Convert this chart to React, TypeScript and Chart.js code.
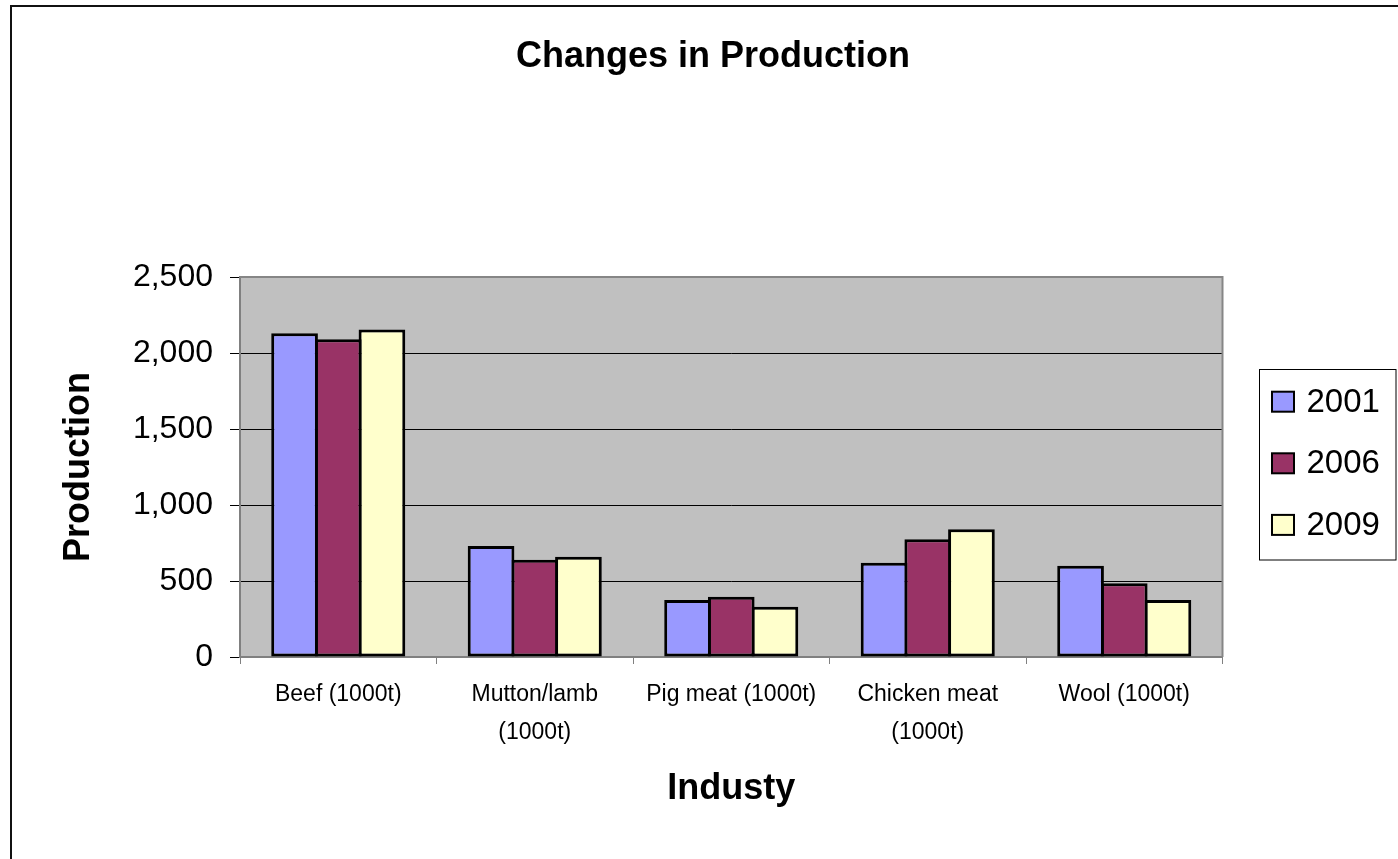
import React, { useEffect, useRef } from 'react';
import { Chart, registerables } from 'chart.js';

Chart.register(...registerables);

const FONT = "'Liberation Sans', Arial, sans-serif";

const categories: (string | string[])[] = [
  'Beef (1000t)',
  ['Mutton/lamb', '(1000t)'],
  'Pig meat (1000t)',
  ['Chicken meat', '(1000t)'],
  'Wool (1000t)',
];
const seriesNames = ['2001', '2006', '2009'];
const values2001 = [2130, 730, 375, 620, 600];
const values2006 = [2090, 640, 396, 775, 485];
const values2009 = [2155, 660, 330, 840, 375];
const seriesColors = ['#9999FF', '#993366', '#FFFFCC'];
const yMin = 0;
const yMax = 2500;
const yStep = 500;

const plotBackground = {
  id: 'plotBackground',
  beforeDraw(chart: any) {
    const { ctx, chartArea } = chart;
    const { left, top, right, bottom } = chartArea;
    ctx.save();
    ctx.fillStyle = '#C0C0C0';
    ctx.fillRect(left, top, right - left, bottom - top);
    ctx.restore();
  },
  afterDatasetsDraw(chart: any) {
    const { ctx, chartArea } = chart;
    const { left, top, right, bottom } = chartArea;
    ctx.save();
    ctx.strokeStyle = '#868686';
    ctx.lineWidth = 2;
    ctx.beginPath();
    ctx.moveTo(left, top);
    ctx.lineTo(right, top);
    ctx.lineTo(right, bottom);
    ctx.stroke();
    ctx.restore();
  },
};

const boxedLegend = {
  id: 'boxedLegend',
  afterDraw(chart: any) {
    const { ctx } = chart;
    const boxLeft = 1247.5;
    const boxTop = 362.5;
    const boxW = 136.5;
    const boxH = 190.5;
    ctx.save();
    ctx.fillStyle = '#FFFFFF';
    ctx.fillRect(boxLeft, boxTop, boxW, boxH);
    ctx.strokeStyle = '#000000';
    ctx.lineWidth = 1;
    ctx.strokeRect(boxLeft, boxTop, boxW, boxH);
    const firstY = 394.7;
    const gap = 61.6;
    chart.data.datasets.forEach((ds: any, i: number) => {
      const cy = firstY + i * gap;
      ctx.fillStyle = ds.backgroundColor;
      ctx.fillRect(1260, cy - 10, 22, 20);
      ctx.strokeStyle = '#000';
      ctx.lineWidth = 2;
      ctx.strokeRect(1260, cy - 10, 22, 20);
      ctx.fillStyle = '#000';
      ctx.font = `33px ${FONT}`;
      ctx.textAlign = 'left';
      ctx.textBaseline = 'middle';
      ctx.fillText(ds.label, 1294.5, cy + 1);
    });
    ctx.restore();
  },
};

export default function App() {
  const canvasRef = useRef<HTMLCanvasElement | null>(null);

  useEffect(() => {
    if (!canvasRef.current) return;
    const seriesValues = [values2001, values2006, values2009];
    const chart = new Chart(canvasRef.current, {
      type: 'bar',
      data: {
        labels: categories,
        datasets: seriesNames.map((name, i) => ({
          label: name,
          data: seriesValues[i],
          backgroundColor: seriesColors[i],
          borderColor: '#000000',
          borderWidth: 3,
          borderSkipped: false,
          categoryPercentage: 0.667,
          barPercentage: 1.0687,
        })),
      },
      options: {
        animation: false,
        responsive: true,
        maintainAspectRatio: false,
        layout: { padding: { left: 16, right: 0, top: 0, bottom: 48 } },
        plugins: {
          legend: { display: false },
          tooltip: { enabled: false },
          title: {
            display: true,
            text: 'Changes in Production',
            color: '#000',
            font: { family: FONT, size: 36, weight: 'bold', lineHeight: 1.2 },
            padding: { top: 28.4, bottom: 198.4 },
          },
        },
        scales: {
          x: {
            grid: {
              display: true,
              drawOnChartArea: false,
              drawTicks: true,
              tickLength: 7,
              color: '#808080',
              offset: true,
            },
            border: { display: true, color: '#808080', width: 2 },
            ticks: {
              color: '#000',
              autoSkip: false,
              maxRotation: 0,
              minRotation: 0,
              padding: 12,
              font: { family: FONT, size: 23, lineHeight: 38 / 23 },
            },
            title: {
              display: true,
              text: 'Industy',
              color: '#000',
              font: { family: FONT, size: 36, weight: 'bold', lineHeight: 1.2 },
              padding: { top: 0, bottom: 0 },
            },
            afterFit(scale: any) {
              scale.height = 154;
            },
          },
          y: {
            min: yMin,
            max: yMax,
            grid: {
              color: (c: any) =>
                c.tick && (c.tick.value === yMin || c.tick.value === yMax) ? 'rgba(0,0,0,0)' : '#000000',
              lineWidth: 1,
              tickLength: 10,
              tickColor: '#000000',
              tickWidth: 1,
            },
            border: { display: true, color: '#808080', width: 2 },
            ticks: {
              stepSize: yStep,
              color: '#000',
              padding: 17,
              font: { family: FONT, size: 32 },
              callback: (v: any) => Number(v).toLocaleString('en-US'),
            },
            title: {
              display: true,
              text: 'Production',
              color: '#000',
              font: { family: FONT, size: 36, weight: 'bold', lineHeight: 1.2 },
              padding: { top: 29, bottom: 0 },
            },
            afterFit(scale: any) {
              scale.width = 212;
            },
          },
          spacer: {
            type: 'linear',
            position: 'right',
            display: true,
            grid: { display: false, drawTicks: false },
            border: { display: false },
            ticks: { display: false },
            afterFit(scale: any) {
              scale.width = 175.5;
            },
          },
        },
      },
      plugins: [plotBackground, boxedLegend],
    } as any);
    return () => chart.destroy();
  }, []);

  return (
    <div
      style={{
        position: 'fixed',
        left: 0,
        top: 0,
        width: 1398,
        height: 859,
        overflow: 'hidden',
        background: '#fff',
      }}
    >
      <div
        style={{
          position: 'absolute',
          left: 10,
          top: 5,
          width: 1600,
          height: 1100,
          borderLeft: '2px solid #111',
          borderTop: '2px solid #111',
        }}
      />
      <div style={{ position: 'absolute', left: 12, top: 7, width: 1386, height: 852 }}>
        <canvas ref={canvasRef} />
      </div>
    </div>
  );
}
